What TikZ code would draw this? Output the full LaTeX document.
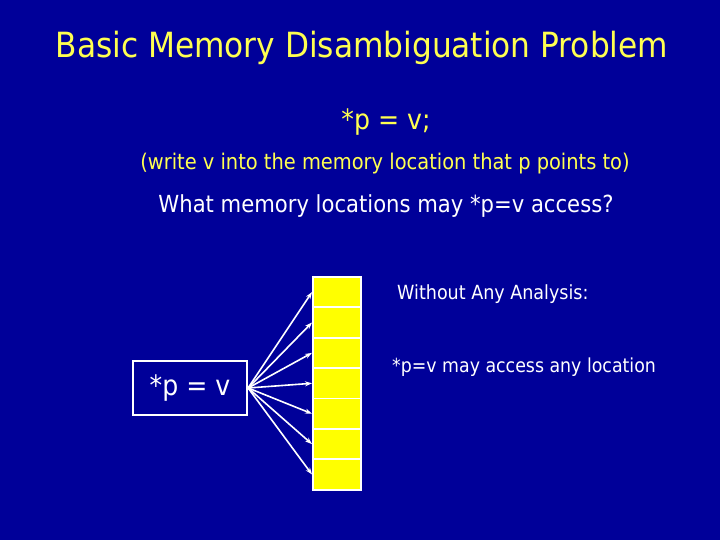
\documentclass[tikz,border=0pt]{standalone}
\usepackage{fontspec}
\setmainfont{DejaVu Sans Condensed}
\usetikzlibrary{arrows.meta}
\definecolor{bg}{RGB}{0,0,153}
\definecolor{ttl}{RGB}{255,255,80}
\definecolor{cell}{RGB}{255,255,0}
\begin{document}
\begin{tikzpicture}[x=1pt,y=-1pt,
  txt/.style={inner sep=0pt,anchor=base},
  cellbox/.style={draw=white,line width=1.8pt,fill=cell,minimum width=48pt,minimum height=30.4pt,inner sep=0pt,anchor=north west},
  stmtbox/.style={draw=white,line width=2.2pt,fill=bg,minimum width=114pt,minimum height=54pt,inner sep=0pt,text=white,font=\fontsize{28}{30}\selectfont},
  ptr/.style={draw=white,line width=1.6pt,-{Stealth[length=7pt,width=5pt]}}]
\useasboundingbox (0,0) rectangle (720,540);
\fill[bg] (0,0) rectangle (720,540);
\node[txt,text=ttl,font=\fontsize{34.7}{38}\selectfont] (title) at (362,58) {Basic Memory Disambiguation Problem};
\node[txt,text=ttl,font=\fontsize{28}{30}\selectfont] (stmt) at (386,130) {*p = v;};
\node[txt,text=ttl,font=\fontsize{21.6}{24}\selectfont] (expl) at (385,170) {(write v into the memory location that p points to)};
\node[txt,text=white,font=\fontsize{23.5}{26}\selectfont] (q) at (386,212) {What memory locations may *p=v access?};
\node[txt,text=white,font=\fontsize{19.5}{22}\selectfont,anchor=base west] (wo) at (397,299) {Without Any Analysis:};
\node[txt,text=white,font=\fontsize{19.3}{22}\selectfont,anchor=base west] (any) at (392,372) {*p=v may access any location};
\node[stmtbox] (p) at (190,388) {*p = v};
\foreach \i in {1,...,7} {
  \node[cellbox] (c\i) at (312,{276+(\i-1)*30.4}) {};
}
\foreach \i in {1,...,7} {
  \draw[ptr] (p.east) -- (c\i.west);
}
\end{tikzpicture}
\end{document}
